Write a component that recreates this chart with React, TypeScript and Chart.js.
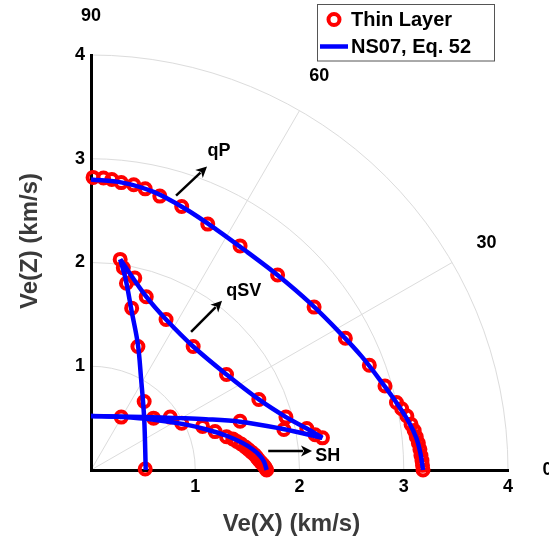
import React, { useEffect, useRef } from "react";
import { Chart, registerables } from "chart.js";

Chart.register(...registerables);

// ---- Data ----
// qP wavefront: thin-layer points (circles) and NS07 curve
const qpPtsX = [0.02, 0.12, 0.2, 0.29, 0.41, 0.52, 0.66, 0.87, 1.12, 1.43, 1.79, 2.14, 2.44, 2.67, 2.82, 2.93, 2.98, 3.03, 3.07, 3.1, 3.12, 3.14, 3.155, 3.165, 3.175, 3.18, 3.185];
const qpPtsY = [2.82, 2.815, 2.8, 2.77, 2.75, 2.71, 2.64, 2.54, 2.37, 2.16, 1.88, 1.57, 1.27, 1.01, 0.81, 0.65, 0.59, 0.52, 0.44, 0.38, 0.32, 0.26, 0.2, 0.14, 0.09, 0.045, 0.0];
const qpLineX = [0, 0.3, 0.6, 0.9, 1.2, 1.5, 1.8, 2.1, 2.4, 2.6, 2.8, 2.95, 3.05, 3.12, 3.16, 3.185];
const qpLineY = [2.8, 2.77, 2.68, 2.52, 2.32, 2.1, 1.87, 1.61, 1.31, 1.09, 0.83, 0.62, 0.46, 0.31, 0.16, 0.0];

// qSV wavefront (cuspidal): thin-layer points and three NS07 branches
const qsvPtsX = [0.28, 0.31, 0.42, 0.34, 0.53, 0.39, 0.72, 0.45, 0.98, 1.3, 0.51, 1.61, 1.87, 1.85, 2.07, 2.15, 2.22, 0.29, 1.43, 0.52];
const qsvPtsY = [2.03, 1.95, 1.85, 1.8, 1.67, 1.56, 1.45, 1.19, 1.19, 0.92, 0.66, 0.68, 0.51, 0.39, 0.4, 0.34, 0.31, 0.51, 0.47, 0.01];
const qsvBranch1X = [0.525, 0.51, 0.48, 0.45, 0.39, 0.33, 0.28];
const qsvBranch1Y = [0.0, 0.5, 0.885, 1.21, 1.53, 1.85, 2.03];
const qsvBranch2X = [0.28, 0.53, 0.72, 0.98, 1.3, 1.61, 1.87, 2.07, 2.22];
const qsvBranch2Y = [2.03, 1.67, 1.45, 1.19, 0.92, 0.68, 0.51, 0.4, 0.31];
const qsvBranch3X = [2.22, 2.07, 1.82, 1.43, 1.1, 0.85, 0.5, 0.0];
const qsvBranch3Y = [0.31, 0.345, 0.4, 0.465, 0.49, 0.5, 0.51, 0.52];

// SH wavefront
const shPtsX = [0.6, 0.76, 0.87, 1.07, 1.19, 1.3, 1.36, 1.4, 1.44, 1.48, 1.51, 1.54, 1.57, 1.59, 1.61, 1.63, 1.65, 1.665, 1.675, 1.685];
const shPtsY = [0.5, 0.51, 0.45, 0.42, 0.37, 0.32, 0.3, 0.275, 0.25, 0.222, 0.197, 0.172, 0.147, 0.122, 0.097, 0.073, 0.052, 0.033, 0.017, 0.0];
const shLineX = [0, 0.3, 0.6, 0.9, 1.1, 1.3, 1.45, 1.55, 1.62, 1.66, 1.685];
const shLineY = [0.52, 0.51, 0.485, 0.44, 0.393, 0.33, 0.262, 0.2, 0.138, 0.08, 0.0];

// polar grid
const gridRadii = [1, 2, 3, 4];
const spokeAngles = [30, 60];
const angleLabels = ["0", "30", "60", "90"];
const angleLabelValues = [0, 30, 60, 90];
const axisTicks = [0, 1, 2, 3, 4];

// annotations
const waveLabels = ["qP", "qSV", "SH"];

const FONT = "'Liberation Sans', Arial, Helvetica, sans-serif";
const RED = "#ff0000";
const BLUE = "#0000ff";

const zip = (xs: number[], ys: number[]) => xs.map((x, i) => ({ x, y: ys[i] }));

const ANNOT = {
  labelRadius: 4.38,
  arrows: [
    { from: [0.816, 2.645], to: [1.113, 2.925] },
    { from: [0.96, 1.332], to: [1.257, 1.631] },
    { from: [1.7, 0.183], to: [2.12, 0.183] },
  ],
  labelPos: [
    [1.228, 3.07],
    [1.465, 1.728],
    [2.27, 0.135],
  ],
};

const decorPlugin = {
  id: "decor",
  beforeDraw(chart: any) {
    const { ctx, scales } = chart;
    const xs = scales.x;
    const ys = scales.y;
    const cx = xs.getPixelForValue(0);
    const cy = ys.getPixelForValue(0);
    ctx.save();
    ctx.fillStyle = "#ffffff";
    ctx.fillRect(0, 0, chart.width, chart.height);
    ctx.strokeStyle = "#dcdcdc";
    ctx.lineWidth = 1;
    gridRadii.forEach((r) => {
      const rx = xs.getPixelForValue(r) - cx;
      const ry = cy - ys.getPixelForValue(r);
      ctx.beginPath();
      ctx.ellipse(cx, cy, rx, ry, 0, -Math.PI / 2, 0, false);
      ctx.stroke();
    });
    const rMax = gridRadii[gridRadii.length - 1];
    spokeAngles.forEach((a) => {
      const t = (a * Math.PI) / 180;
      ctx.beginPath();
      ctx.moveTo(cx, cy);
      ctx.lineTo(xs.getPixelForValue(rMax * Math.cos(t)), ys.getPixelForValue(rMax * Math.sin(t)));
      ctx.stroke();
    });
    ctx.restore();
  },
  afterDatasetsDraw(chart: any) {
    const { ctx, scales } = chart;
    const xs = scales.x;
    const ys = scales.y;
    const px = (v: number) => xs.getPixelForValue(v);
    const py = (v: number) => ys.getPixelForValue(v);
    ctx.save();

    // angle labels
    ctx.fillStyle = "#000";
    ctx.font = `bold 18px ${FONT}`;
    ctx.textAlign = "center";
    ctx.textBaseline = "middle";
    angleLabelValues.forEach((a, i) => {
      const t = (a * Math.PI) / 180;
      ctx.fillText(angleLabels[i], px(ANNOT.labelRadius * Math.cos(t)), py(ANNOT.labelRadius * Math.sin(t)));
    });

    // arrows
    ctx.strokeStyle = "#000";
    ctx.lineWidth = 2.5;
    ANNOT.arrows.forEach((a) => {
      const x1 = px(a.from[0]);
      const y1 = py(a.from[1]);
      const x2 = px(a.to[0]);
      const y2 = py(a.to[1]);
      const ang = Math.atan2(y2 - y1, x2 - x1);
      const hl = 11;
      const hw = 5.5;
      const bx = x2 - hl * Math.cos(ang);
      const by = y2 - hl * Math.sin(ang);
      ctx.beginPath();
      ctx.moveTo(x1, y1);
      ctx.lineTo(bx + 2 * Math.cos(ang), by + 2 * Math.sin(ang));
      ctx.stroke();
      ctx.beginPath();
      ctx.moveTo(x2, y2);
      ctx.lineTo(bx + hw * Math.sin(ang), by - hw * Math.cos(ang));
      ctx.lineTo(bx + 3 * Math.cos(ang), by + 3 * Math.sin(ang));
      ctx.lineTo(bx - hw * Math.sin(ang), by + hw * Math.cos(ang));
      ctx.closePath();
      ctx.fill();
    });

    // wave labels
    ctx.font = `bold 18px ${FONT}`;
    waveLabels.forEach((t, i) => {
      ctx.fillText(t, px(ANNOT.labelPos[i][0]), py(ANNOT.labelPos[i][1]));
    });

    // axis titles
    ctx.fillStyle = "#3a3a3a";
    ctx.font = `bold 24px ${FONT}`;
    ctx.fillText("Ve(X) (km/s)", 291.5, 524);
    ctx.save();
    ctx.translate(30, 241);
    ctx.rotate(-Math.PI / 2);
    ctx.fillText("Ve(Z) (km/s)", 0, 0);
    ctx.restore();

    // legend
    ctx.fillStyle = "#fff";
    ctx.fillRect(317.5, 4.5, 177, 56.5);
    ctx.strokeStyle = "#555";
    ctx.lineWidth = 1;
    ctx.strokeRect(317.5, 4.5, 177, 56.5);
    ctx.strokeStyle = RED;
    ctx.lineWidth = 4;
    ctx.beginPath();
    ctx.arc(334, 19.5, 5.5, 0, Math.PI * 2);
    ctx.stroke();
    ctx.strokeStyle = BLUE;
    ctx.lineWidth = 4.5;
    ctx.beginPath();
    ctx.moveTo(320, 46.5);
    ctx.lineTo(348, 46.5);
    ctx.stroke();
    ctx.fillStyle = "#000";
    ctx.font = `bold 20px ${FONT}`;
    ctx.textAlign = "left";
    ctx.fillText("Thin Layer", 351, 20);
    ctx.fillText("NS07, Eq. 52", 351, 47);

    ctx.restore();
  },
};

const circleDs = (xs: number[], ys: number[]) => ({
  data: zip(xs, ys),
  showLine: false,
  pointStyle: "circle" as const,
  pointRadius: 5.5,
  pointBorderWidth: 4,
  pointBorderColor: RED,
  pointBackgroundColor: "rgba(0,0,0,0)",
  clip: false as any,
  order: 2,
});

const lineDs = (xs: number[], ys: number[]) => ({
  data: zip(xs, ys),
  showLine: true,
  borderColor: BLUE,
  borderWidth: 4.5,
  pointRadius: 0,
  tension: 0.35,
  fill: false,
  clip: false as any,
  order: 0,
});

export default function App() {
  const ref = useRef<HTMLCanvasElement>(null);
  useEffect(() => {
    document.body.style.margin = "0";
    if (!ref.current) return;
    const tickFont = { family: FONT, size: 18, weight: "bold" as const };
    const chart = new Chart(ref.current, {
      type: "scatter",
      data: {
        datasets: [
          lineDs(qpLineX, qpLineY),
          lineDs(qsvBranch1X, qsvBranch1Y),
          lineDs(qsvBranch2X, qsvBranch2Y),
          lineDs(qsvBranch3X, qsvBranch3Y),
          lineDs(shLineX, shLineY),
          circleDs(qpPtsX, qpPtsY),
          circleDs(qsvPtsX, qsvPtsY),
          circleDs(shPtsX, shPtsY),
        ] as any,
      },
      options: {
        animation: false,
        responsive: false,
        devicePixelRatio: 1,
        layout: { padding: { left: 0, right: 41, top: 55, bottom: 0 } },
        plugins: { legend: { display: false }, tooltip: { enabled: false } },
        scales: {
          x: {
            type: "linear",
            min: axisTicks[0],
            max: axisTicks[axisTicks.length - 1],
            afterBuildTicks: (s: any) => {
              s.ticks = axisTicks.map((v) => ({ value: v }));
            },
            ticks: {
              callback: (v: any) => (v === 0 ? "" : String(v)),
              font: tickFont,
              color: "#000",
              padding: 6,
              maxRotation: 0,
            },
            grid: { display: false, drawTicks: false },
            border: { display: true, color: "#000", width: 3 },
            afterFit: (s: any) => {
              s.height = 71;
            },
          },
          y: {
            type: "linear",
            min: axisTicks[0],
            max: axisTicks[axisTicks.length - 1],
            afterBuildTicks: (s: any) => {
              s.ticks = axisTicks.map((v) => ({ value: v }));
            },
            ticks: {
              callback: (v: any) => (v === 0 ? "" : String(v)),
              font: tickFont,
              color: "#000",
              padding: 6,
            },
            grid: { display: false, drawTicks: false },
            border: { display: true, color: "#000", width: 3 },
            afterFit: (s: any) => {
              s.width = 91;
            },
          },
        },
      } as any,
      plugins: [decorPlugin],
    });
    return () => chart.destroy();
  }, []);
  return (
    <div style={{ width: 549, height: 541 }}>
      <canvas ref={ref} width={549} height={541} style={{ display: "block" }} />
    </div>
  );
}
